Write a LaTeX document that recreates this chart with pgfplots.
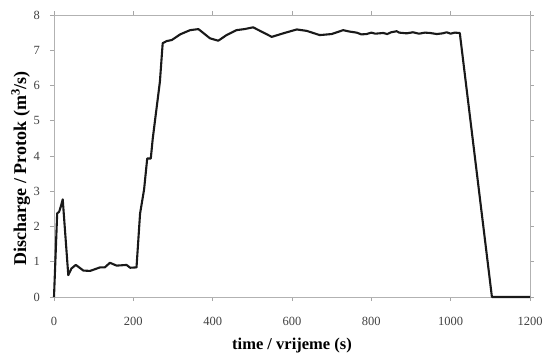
\documentclass[border=0pt]{standalone}
\usepackage{fontspec}
\setmainfont{Liberation Serif}
\usepackage{pgfplots}
\pgfplotsset{compat=1.18}
\begin{document}
\begin{tikzpicture}
\useasboundingbox (-54pt,-56pt) rectangle (492pt,297pt);
\begin{axis}[
  at={(0pt,0pt)}, anchor=south west,
  scale only axis,
  width=476pt, height=282pt,
  xmin=0, xmax=1200, ymin=0, ymax=8,
  xtick={0,200,...,1200}, ytick={0,1,...,8},
  /pgf/number format/assume math mode=true,
  /pgf/number format/1000 sep={},
  tick align=outside,
  major tick length=4pt,
  tick style={gray!70, line width=0.6pt},
  axis line style={gray!60, line width=0.8pt},
  every tick label/.append style={font=\fontsize{12.5}{13}\selectfont, text=black!75},
  xticklabel style={anchor=base, yshift=-24pt},
  yticklabel style={anchor=east, inner sep=0pt, xshift=-10pt},
  xlabel={\textbf{time / vrijeme (s)}},
  ylabel={\textbf{Discharge / Protok (m\textsuperscript{3}/s)}},
  xlabel style={font=\fontsize{16.5}{17}\selectfont, at={(axis description cs:0.5,0)}, anchor=base, yshift=-52pt},
  ylabel style={font=\fontsize{18}{18}\selectfont, at={(axis description cs:-0.0588,0.457)}, anchor=base},
  clip=false,
]
\addplot[black!90, line width=2.1pt, line join=round] coordinates {
(0,0) (8,2.37) (13,2.42) (17,2.56) (22,2.77) (36,0.62) (44,0.81) (55,0.91)
(74,0.75) (91,0.74) (116,0.84) (128,0.84) (141,0.97) (158,0.89) (183,0.91)
(192,0.83) (208,0.84) (217,2.37) (227,3.04) (235,3.93) (244,3.93) (249,4.5)
(267,6.11) (274,7.2) (284,7.26) (297,7.29) (318,7.45) (343,7.57) (364,7.6)
(372,7.53) (393,7.34) (414,7.27) (435,7.43) (460,7.57) (480,7.6) (502,7.65)
(523,7.53) (549,7.38) (578,7.48) (612,7.59) (637,7.55) (670,7.43) (700,7.46)
(729,7.57) (745,7.53) (763,7.5) (775,7.45) (788,7.46) (800,7.5) (810,7.47)
(830,7.49) (840,7.46) (850,7.51) (864,7.54) (870,7.5) (889,7.48) (905,7.51)
(920,7.47) (935,7.5) (948,7.49) (965,7.46) (980,7.48) (990,7.51) (1000,7.47)
(1010,7.5) (1023,7.49) (1104,0) (1200,0)
};
\end{axis}
\end{tikzpicture}
\end{document}
